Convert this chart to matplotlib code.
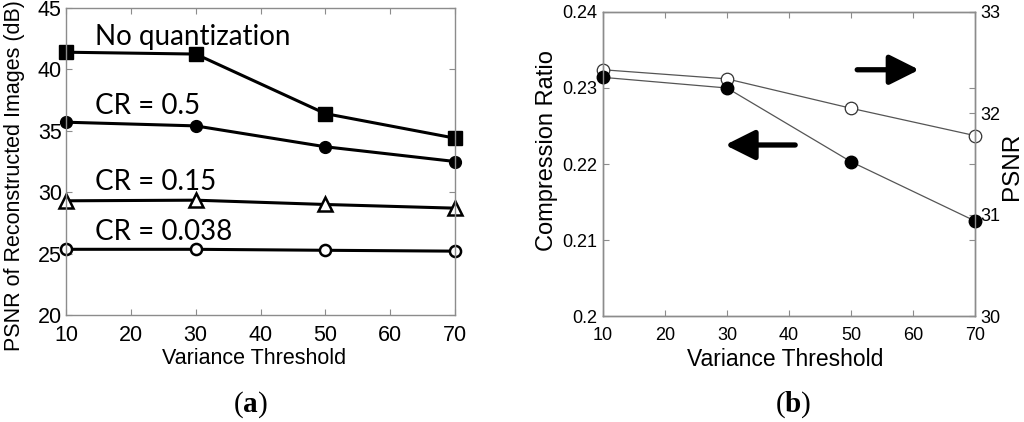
import matplotlib
matplotlib.use("Agg")
import matplotlib.pyplot as plt

# ---------------- data ----------------
thresholds = [10, 30, 50, 70]

# panel (a): PSNR of reconstructed images (dB)
psnr_noquant = [41.4, 41.25, 36.4, 34.4]
psnr_cr05 = [35.7, 35.4, 33.7, 32.5]
psnr_cr015 = [29.3, 29.35, 29.0, 28.7]
psnr_cr0038 = [25.35, 25.35, 25.27, 25.2]
series_labels = ["No quantization", "CR = 0.5", "CR = 0.15", "CR = 0.038"]
label_y = [42.0, 36.4, 30.2, 26.1]

# panel (b)
compression_ratio = [0.2314, 0.2300, 0.2203, 0.2125]
psnr_b = [32.43, 32.34, 32.05, 31.78]

a_xticks = [10, 20, 30, 40, 50, 60, 70]
a_yticks = [20, 25, 30, 35, 40, 45]
b_yticks = [0.20, 0.21, 0.22, 0.23, 0.24]
b_yticklabels = ["0.2", "0.21", "0.22", "0.23", "0.24"]
b_y2ticks = [30, 31, 32, 33]

plt.rcParams['font.family'] = ['Liberation Sans', 'DejaVu Sans']
plt.rcParams['mathtext.fontset'] = 'custom'
plt.rcParams['mathtext.bf'] = 'Liberation Serif:bold'
plt.rcParams['mathtext.rm'] = 'Liberation Serif'

W, H = 1024, 422
fig = plt.figure(figsize=(W / 100, H / 100), dpi=100)

def fx(px):
    return px / W

def fy(py):
    return 1 - py / H

spine_col = '#8c8c8c'

# ---------------- panel (a) ----------------
axa = fig.add_axes([fx(66), fy(315), fx(455) - fx(66), fy(8) - fy(315)])
axa.plot(thresholds, psnr_noquant, color='k', lw=2.2, marker='s', ms=9.5,
         mfc='k', mec='k', clip_on=False)
axa.plot(thresholds, psnr_cr05, color='k', lw=2.2, marker='o', ms=8.5,
         mfc='k', mec='k', clip_on=False)
axa.plot(thresholds, psnr_cr015, color='k', lw=2.2, marker='^', ms=9.5,
         mfc='white', mec='k', mew=1.8, clip_on=False)
axa.plot(thresholds, psnr_cr0038, color='k', lw=2.2, marker='o', ms=8,
         mfc='white', mec='k', mew=1.8, clip_on=False)
for lab, yy in zip(series_labels, label_y):
    axa.text(14.5, yy, lab, family=['Lato', 'DejaVu Sans'], fontsize=20,
             ha='left', va='baseline')
axa.set_xlim(10, 70)
axa.set_ylim(20, 45)
axa.set_xticks(a_xticks)
axa.set_yticks(a_yticks)
axa.tick_params(direction='in', length=4, color=spine_col, labelsize=15.5,
                top=True, right=True, pad=3)
axa.tick_params(axis='x', pad=7)
for s in axa.spines.values():
    s.set_color(spine_col)
    s.set_linewidth(1)

fig.text(fx(15), fy(176), "PSNR of Reconstructed Images (dB)", rotation=90,
         ha='center', va='center', fontsize=15.5)
fig.text(fx(254), fy(358), "Variance Threshold", ha='center', va='center',
         fontsize=15.5)
fig.text(fx(250), fy(405), r"($\mathbf{a}$)", ha='center', va='center',
         fontsize=21, family='Liberation Serif')

# ---------------- panel (b) ----------------
axb = fig.add_axes([fx(603), fy(316), fx(975) - fx(603), fy(12) - fy(316)])
axb2 = axb.twinx()
axb.set_zorder(axb2.get_zorder() + 1)
axb.patch.set_visible(False)

axb2.plot(thresholds, psnr_b, color='#555555', lw=0.9, marker='o', ms=9,
          mfc='white', mec='#333333', mew=0.9, clip_on=False)
axb.plot(thresholds, compression_ratio, color='#555555', lw=0.9, marker='o',
         ms=9, mfc='k', mec='k', clip_on=False)

axb.set_xlim(10, 70)
axb.set_ylim(0.20, 0.24)
axb2.set_ylim(30, 33)
axb.set_xticks(a_xticks)
axb.set_yticks(b_yticks)
axb.set_yticklabels(b_yticklabels)
axb2.set_yticks(b_y2ticks)
axb.tick_params(direction='in', length=4, color=spine_col, labelsize=13,
                top=True, right=True, pad=4)
axb.tick_params(axis='x', pad=8)
axb2.tick_params(direction='in', length=4, color=spine_col, labelsize=13,
                 pad=4)
for a in (axb, axb2):
    for s in a.spines.values():
        s.set_color(spine_col)
        s.set_linewidth(1)

# arrows
axb.annotate('', xy=(61.0, 0.2324), xytext=(51.0, 0.2324),
             arrowprops=dict(arrowstyle='-|>,head_length=1.0,head_width=0.5',
                             mutation_scale=18, lw=3.8, color='k',
                             shrinkA=0, shrinkB=0))
axb.annotate('', xy=(29.7, 0.2225), xytext=(41.0, 0.2225),
             arrowprops=dict(arrowstyle='-|>,head_length=1.0,head_width=0.5',
                             mutation_scale=18, lw=3.8, color='k',
                             shrinkA=0, shrinkB=0))

fig.text(fx(547), fy(151), "Compression Ratio", rotation=90, ha='center',
         va='center', fontsize=17)
fig.text(fx(1012), fy(166), "PSNR", rotation=90, ha='center', va='center',
         fontsize=17.5)
fig.text(fx(785), fy(360), "Variance Threshold", ha='center', va='center',
         fontsize=16.5)
fig.text(fx(793), fy(405), r"($\mathbf{b}$)", ha='center', va='center',
         fontsize=21, family='Liberation Serif')

fig.savefig("out.png", dpi=100, facecolor='white')
